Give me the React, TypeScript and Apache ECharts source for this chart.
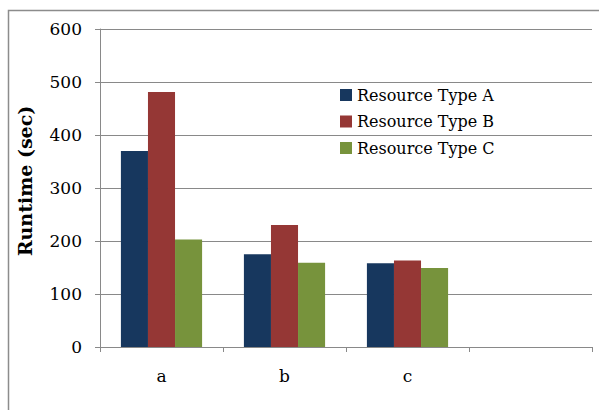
import React, { useEffect, useRef } from "react";
import * as echarts from "echarts";

// Runtime (sec) per workload and resource type
const categories = ["a", "b", "c", ""];
const seriesNames = ["Resource Type A", "Resource Type B", "Resource Type C"];
const typeA = [370, 175, 158, null];
const typeB = [481, 230, 163, null];
const typeC = [203, 159, 149, null];
const yTicks = { min: 0, max: 600, interval: 100 };

const colors = ["#17375E", "#953735", "#77933C"];
const axisGray = "#898989";
const serif = "DejaVu Serif";

export default function App() {
  const ref = useRef<HTMLDivElement>(null);

  useEffect(() => {
    document.body.style.margin = "0";
    const chart = echarts.init(ref.current!, null, { renderer: "svg" });
    const values = [typeA, typeB, typeC];
    chart.setOption({
      animation: false,
      backgroundColor: "#ffffff",
      color: colors,
      graphic: [
        {
          type: "rect",
          shape: { x: 8.5, y: 10.5, width: 620, height: 420 },
          style: { fill: "none", stroke: "#8c8c8c", lineWidth: 1.5 },
          silent: true,
          z: -1,
        },
      ],
      grid: { left: 100, right: 7, top: 29, bottom: 63 },
      legend: {
        orient: "vertical",
        left: 340,
        top: 87,
        icon: "rect",
        itemWidth: 12,
        itemHeight: 12,
        itemGap: 10.5,
        padding: 0,
        textStyle: { fontFamily: serif, fontSize: 16, color: "#000" },
        data: seriesNames,
      },
      xAxis: {
        type: "category",
        data: categories,
        axisLine: { lineStyle: { color: axisGray, width: 1 } },
        axisTick: { show: true, length: 5, lineStyle: { color: axisGray } },
        axisLabel: { fontFamily: serif, fontSize: 17, color: "#000", margin: 20 },
      },
      yAxis: {
        type: "value",
        min: yTicks.min,
        max: yTicks.max,
        interval: yTicks.interval,
        name: "Runtime (sec)",
        nameLocation: "middle",
        nameGap: 66,
        nameTextStyle: {
          fontFamily: serif,
          fontWeight: "bold",
          fontSize: 19,
          color: "#000",
          padding: [0, 0, 0, 14],
        },
        axisLine: { show: true, lineStyle: { color: axisGray, width: 1 } },
        axisTick: { show: true, length: 5, lineStyle: { color: axisGray } },
        splitLine: { lineStyle: { color: axisGray, width: 1 } },
        axisLabel: { fontFamily: serif, fontSize: 17, color: "#000", margin: 18 },
      },
      series: seriesNames.map((name, i) => ({
        name,
        type: "bar",
        data: values[i],
        barGap: "0%",
        barCategoryGap: "34%",
        itemStyle: { color: colors[i] },
      })),
    });
    return () => chart.dispose();
  }, []);

  return <div ref={ref} style={{ width: 599, height: 410 }} />;
}
